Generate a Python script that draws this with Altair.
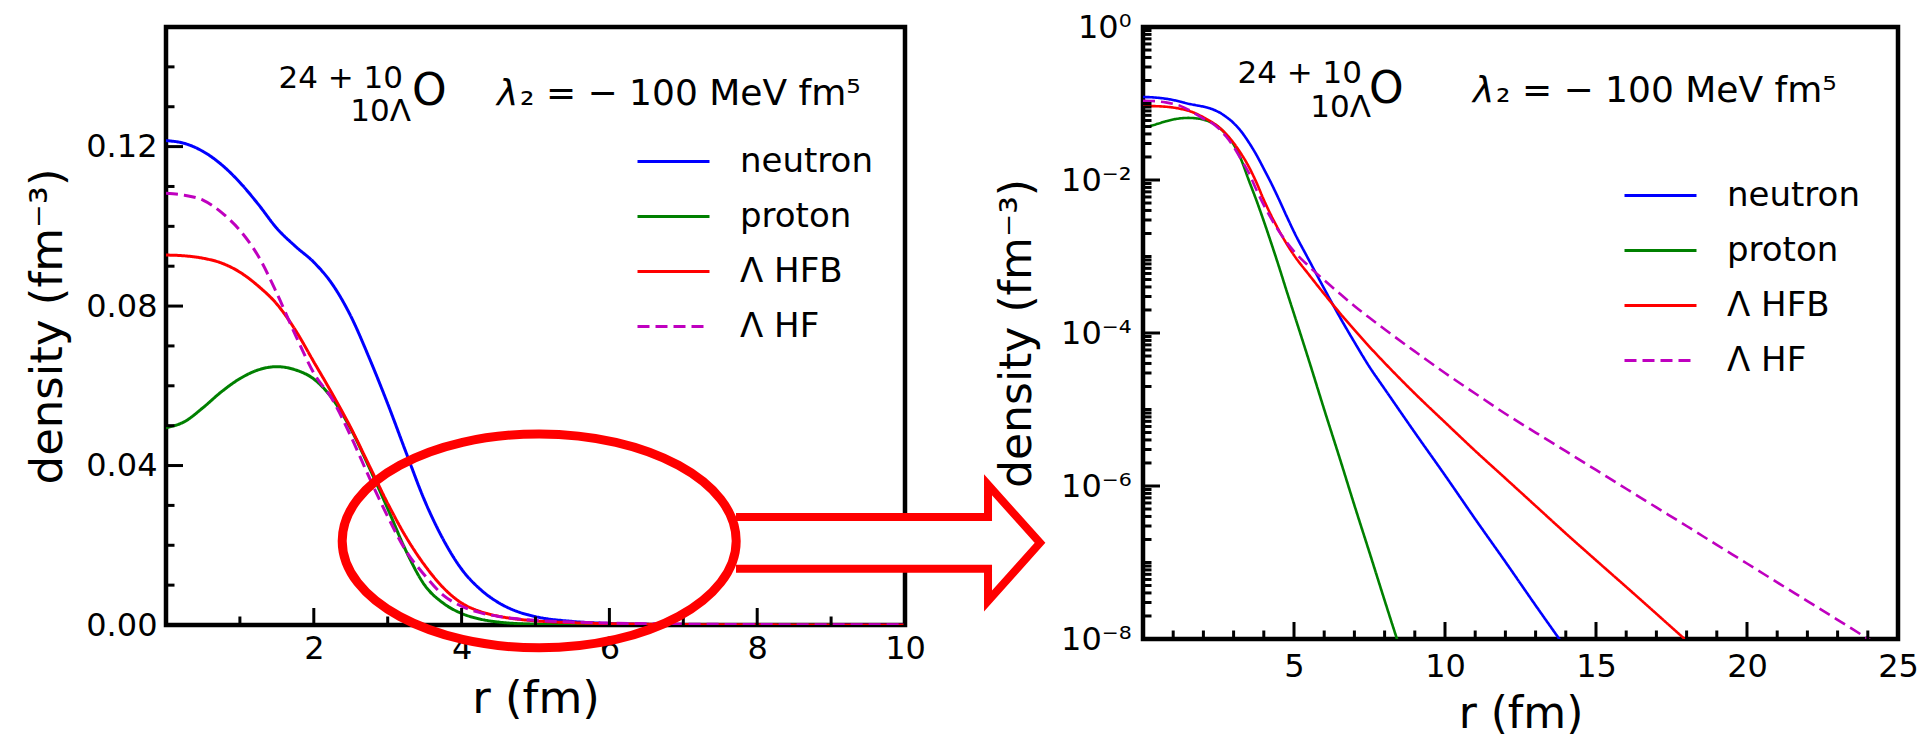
import altair as alt
import pandas as pd

FONT = "DejaVu Sans"

# ---- densities of the hypernucleus vs radius ---------------------------------
r_fm = [0, 0.25, 0.5, 0.75, 1.0, 1.25, 1.5, 1.75, 2.0, 2.25, 2.5, 2.75, 3.0, 3.25,
        3.5, 3.75, 4.0, 4.25, 4.5, 4.75, 5.0, 5.5, 6.0, 6.5, 7.0, 7.5, 8.0, 9, 10,
        11, 12, 13, 14, 15, 16, 17, 18, 19, 20, 21, 22, 23, 24, 25]

neutron = [0.1215, 0.1208, 0.1188, 0.1155, 0.1110, 0.1055, 0.0995, 0.0950, 0.0910,
           0.0855, 0.0775, 0.0670, 0.0555, 0.0432, 0.0312, 0.0215, 0.0140, 0.0090,
           0.0056, 0.0034, 0.0021, 8.9e-4, 3.8e-4, 1.66e-4, 7.6e-5, 3.6e-5, 1.86e-5,
           5.0e-6, 1.38e-6, 3.7e-7, 1.02e-7, 2.75e-8, 7.6e-9,
           None, None, None, None, None, None, None, None, None, None, None]

proton = [0.0495, 0.0510, 0.0545, 0.0585, 0.0618, 0.0640, 0.0648, 0.0640, 0.0617,
          0.0568, 0.0492, 0.0395, 0.0292, 0.0185, 0.0100, 0.0055, 0.0029, 1.48e-3,
          7.4e-4, 3.6e-4, 1.78e-4, 4.3e-5, 1.0e-5, 2.4e-6, 5.6e-7, 1.35e-7, 3.2e-8,
          1.9e-9,
          None, None, None, None, None, None, None, None, None, None, None, None,
          None, None, None, None]

lambda_hfb = [0.0928, 0.0926, 0.0920, 0.0908, 0.0885, 0.0850, 0.0805, 0.0740, 0.0660,
              0.0580, 0.0495, 0.0400, 0.0305, 0.0220, 0.0150, 0.0094, 0.0055, 0.0034,
              0.0022, 0.00148, 0.00104, 5.75e-4, 3.24e-4, 1.86e-4, 1.10e-4, 6.6e-5,
              4.07e-5, 1.62e-5, 6.8e-6, 2.88e-6, 1.26e-6, 5.5e-7, 2.4e-7, 1.07e-7,
              4.8e-8, 2.14e-8, 9.5e-9, 4.3e-9, None, None, None, None, None, None]

lambda_hf = [0.1083, 0.1078, 0.1066, 0.1035, 0.0990, 0.0925, 0.0832, 0.0728, 0.0632,
             0.0566, 0.0474, 0.0370, 0.0272, 0.0185, 0.0125, 0.0075, 0.0047, 0.0031,
             0.00214, 0.00155, 0.00117, 7.4e-4, 4.9e-4, 3.31e-4, 2.26e-4, 1.58e-4,
             1.12e-4, 5.75e-5, 3.0e-5, 1.62e-5, 8.8e-6, 5.0e-6, 2.85e-6, 1.62e-6,
             9.2e-7, 5.25e-7, 3.0e-7, 1.70e-7, 9.7e-8, 5.5e-8, 3.13e-8, 1.78e-8,
             1.01e-8, 5.75e-9]

species = ["neutron", "proton", "Λ HFB", "Λ HF"]
colors = ["#0000ff", "#008000", "#ff0000", "#bf00bf"]
dashes = [[1, 0], [1, 0], [1, 0], [12, 6]]

# ---- tick positions ---------------------------------------------------------
lin_x_major = [2, 4, 6, 8, 10]
lin_x_minor = [1, 3, 5, 7, 9]
lin_y_major = [0.0, 0.04, 0.08, 0.12]
lin_y_minor = [0.01, 0.02, 0.03, 0.05, 0.06, 0.07, 0.09, 0.10, 0.11, 0.13, 0.14]
log_x_labels = [5, 10, 15, 20, 25]
log_x_major = [5, 10, 15, 20]
log_x_minor = [1, 2, 3, 4, 6, 7, 8, 9, 11, 12, 13, 14, 16, 17, 18, 19, 21, 22, 23, 24]
log_y_labels = [1.0, 1e-2, 1e-4, 1e-6, 1e-8]
log_y_major = [1e-2, 1e-4, 1e-6]
log_y_minor = [k * 10.0 ** e for e in range(-8, 0) for k in range(1, 10)
               if not (k == 1 and e % 2 == 0)]

# highlighted tail region (left panel data units) and the arrow pointing right
highlight = {"r": [5.05], "density": [0.0211]}
pointer = {"r": [9.77], "density": [0.0206]}

rows = []
for name, vals in zip(species, [neutron, proton, lambda_hfb, lambda_hf]):
    for rv, dv in zip(r_fm, vals):
        if dv is not None:
            rows.append({"r": rv, "density": dv, "species": name})
df = pd.DataFrame(rows)

LW, LH = 739, 598
RW, RH = 755, 612
MAJOR, MINOR = 17, 8.5

color_scale = alt.Scale(domain=species, range=colors)
dash_scale = alt.Scale(domain=species, range=dashes)


def legend(x, y, pad):
    return alt.Legend(title=None, orient="none", legendX=x, legendY=y,
                      symbolType="stroke", symbolSize=5184, symbolStrokeWidth=3,
                      labelFont=FONT, labelFontSize=34, labelColor="black",
                      labelOffset=29, labelLimit=400, rowPadding=pad, padding=0)


def axis(values, title, label_pad, title_x, title_y, title_size, fmt=None,
         expr=None, angle=0):
    kw = dict(values=values, title=title, ticks=False, tickSize=0, domain=False,
              grid=False, labelFlush=False, labelOverlap=False, labelFont=FONT,
              labelFontSize=32, labelColor="black", labelPadding=label_pad,
              titleFont=FONT, titleFontSize=title_size, titleFontWeight="normal",
              titleColor="black", titleX=title_x, titleY=title_y,
              titleAlign="center", titleBaseline="alphabetic", titleAngle=angle)
    if fmt:
        kw["format"] = fmt
    if expr:
        kw["labelExpr"] = expr
    return alt.Axis(**kw)


def yticks(values, scale, ax, length):
    return alt.Chart(pd.DataFrame({"v": values})).mark_tick(
        orient="horizontal", size=length, thickness=3, color="black", opacity=1
    ).encode(y=alt.Y("v:Q", scale=scale, axis=ax), x=alt.value(length / 2))


def xticks(values, scale, ax, length, height):
    return alt.Chart(pd.DataFrame({"v": values})).mark_tick(
        orient="vertical", size=length, thickness=3, color="black", opacity=1
    ).encode(x=alt.X("v:Q", scale=scale, axis=ax), y=alt.value(height - length / 2))


def text(s, x, y, size, align="left", style="normal"):
    return alt.Chart(alt.Data(values=[{}])).mark_text(
        x=x, y=y, fontSize=size, font=FONT, align=align, baseline="alphabetic",
        color="black", fontStyle=style
    ).encode(text=alt.value(s))


def nucleus_labels(x_sup, y_sup, x_sub, y_sub, x_o, y_o, x_lam, y_lam):
    return [
        text("24 + 10", x_sup, y_sup, 31, "right"),
        text("10Λ", x_sub, y_sub, 31, "right"),
        text("O", x_o, y_o, 44),
        text("λ", x_lam, y_lam, 36, style="italic"),
        text("₂ = − 100 MeV fm⁵", x_lam + 23, y_lam, 36),
    ]


# ---- left panel: linear scale -------------------------------------------------
xl = alt.Scale(domain=[0, 10], nice=False, zero=False)
yl = alt.Scale(domain=[0, 0.15], nice=False, zero=False)
ax_lx = axis(lin_x_major, "r (fm)", 8, LW / 2, 87, 45, fmt="d")
ax_ly = axis(lin_y_major, "density (fm⁻³)", 9, -105, LH / 2, 45, fmt=".2f",
             angle=270)

left_lines = alt.Chart(df).transform_filter("datum.r <= 10").mark_line(
    strokeWidth=3, interpolate="monotone", clip=True
).encode(
    x=alt.X("r:Q", scale=xl, axis=ax_lx),
    y=alt.Y("density:Q", scale=yl, axis=ax_ly),
    color=alt.Color("species:N", scale=color_scale, legend=legend(470, 97, -23)),
    strokeDash=alt.StrokeDash("species:N", scale=dash_scale,
                              legend=legend(470, 97, -23)),
)

ellipse = alt.Chart(pd.DataFrame(highlight)).mark_point(
    shape="M-1,0 A1,0.543 0 1,1 1,0 A1,0.543 0 1,1 -1,0 Z",
    size=155236, filled=False, stroke="#ff0000", strokeWidth=9, opacity=1
).encode(x=alt.X("r:Q", scale=xl, axis=ax_lx),
         y=alt.Y("density:Q", scale=yl, axis=ax_ly))

arrow = alt.Chart(pd.DataFrame(pointer)).mark_point(
    shape="M-1,-0.171 L0.658,-0.171 L0.658,-0.382 L1,0 L0.658,0.382 "
          "L0.658,0.171 L-1,0.171",
    size=92416, filled=True, fill="white", stroke="#ff0000", strokeWidth=8,
    opacity=1, fillOpacity=1, strokeJoin="miter"
).encode(x=alt.X("r:Q", scale=xl, axis=ax_lx),
         y=alt.Y("density:Q", scale=yl, axis=ax_ly))

left = alt.layer(
    left_lines,
    yticks(lin_y_major, yl, ax_ly, MAJOR), yticks(lin_y_minor, yl, ax_ly, MINOR),
    xticks(lin_x_major, xl, ax_lx, MAJOR, LH), xticks(lin_x_minor, xl, ax_lx, MINOR, LH),
    *nucleus_labels(237, 61, 245, 94, 246, 78, 331, 78),
    arrow, ellipse,
).properties(width=LW, height=LH)

# ---- right panel: logarithmic scale ----------------------------------------------
xr = alt.Scale(domain=[0, 25], nice=False, zero=False)
yr = alt.Scale(type="log", domain=[1e-8, 1], nice=False)

log_expr = ("datum.value > 0.5 ? '10⁰' : datum.value > 5e-3 ? '10⁻²' : "
            "datum.value > 5e-5 ? '10⁻⁴' : datum.value > 5e-7 ? '10⁻⁶' : '10⁻⁸'")
ax_rx = axis(log_x_labels, "r (fm)", 12, RW / 2, 88, 44, fmt="d")
ax_ry = axis(log_y_labels, "density (fm⁻³)", 12, -113, RH / 2, 44, expr=log_expr,
             angle=270)

right_lines = alt.Chart(df).mark_line(
    strokeWidth=2.6, interpolate="monotone", clip=True
).encode(
    x=alt.X("r:Q", scale=xr, axis=ax_rx),
    y=alt.Y("density:Q", scale=yr, axis=ax_ry),
    color=alt.Color("species:N", scale=color_scale, legend=legend(480, 131, -22)),
    strokeDash=alt.StrokeDash("species:N", scale=dash_scale,
                              legend=legend(480, 131, -22)),
)

right = alt.layer(
    right_lines,
    yticks(log_y_major, yr, ax_ry, MAJOR), yticks(log_y_minor, yr, ax_ry, MINOR),
    xticks(log_x_major, xr, ax_rx, MAJOR, RH), xticks(log_x_minor, xr, ax_rx, MINOR, RH),
    *nucleus_labels(219, 56, 228, 90, 226, 76, 330, 75),
).properties(width=RW, height=RH)

chart = alt.hconcat(left, right, spacing=238, bounds="flush").resolve_scale(
    color="independent", strokeDash="independent"
).properties(
    padding={"left": 22, "top": 8, "right": 5, "bottom": 2}, background="white"
).configure_view(stroke="black", strokeWidth=4.5)

chart.save("out.html", embed_options={"renderer": "svg", "actions": False})
